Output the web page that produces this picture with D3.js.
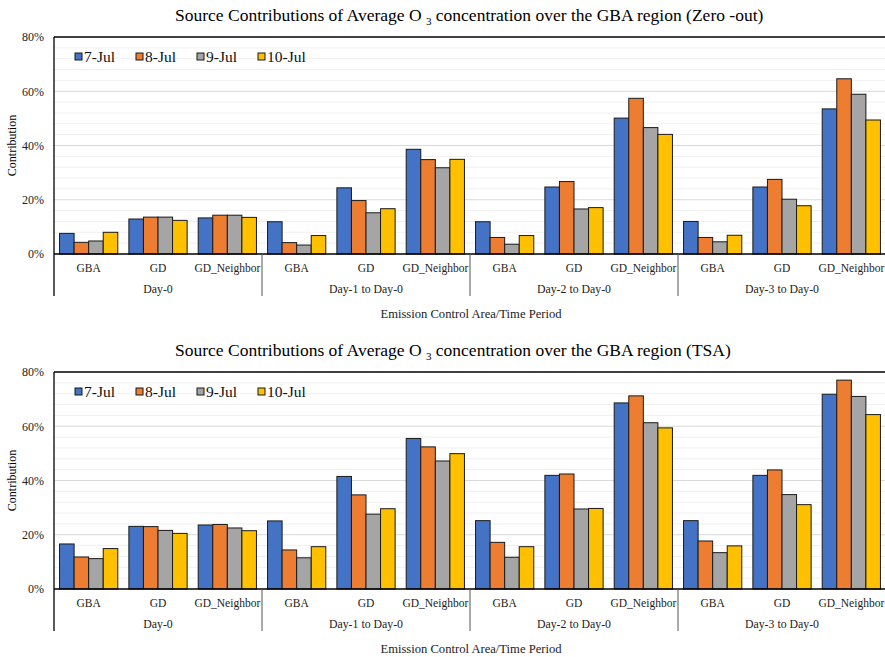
<!DOCTYPE html>
<html>
<head>
<meta charset="utf-8">
<script src="https://cdn.jsdelivr.net/npm/d3@7"></script>
<style>
  html, body { margin: 0; padding: 0; background: #fff; }
  text { font-family: "Liberation Serif", "Times New Roman", "DejaVu Serif", serif; }
</style>
</head>
<body>
<svg id="chart" width="885" height="657"></svg>
<script>
// ---- Data ----
const groups = ["Day-0", "Day-1 to Day-0", "Day-2 to Day-0", "Day-3 to Day-0"];
const areas = ["GBA", "GD", "GD_Neighbor"];
const series = ["7-Jul", "8-Jul", "9-Jul", "10-Jul"];
const yTicks = [0, 0.2, 0.4, 0.6, 0.8];

// Zero-out values (per series, 12 categories: group x area)
const zeroOut_7Jul  = [0.076, 0.129, 0.133, 0.119, 0.244, 0.386, 0.119, 0.247, 0.501, 0.120, 0.247, 0.535];
const zeroOut_8Jul  = [0.043, 0.136, 0.143, 0.042, 0.197, 0.348, 0.061, 0.267, 0.574, 0.061, 0.275, 0.646];
const zeroOut_9Jul  = [0.048, 0.136, 0.143, 0.033, 0.152, 0.318, 0.036, 0.166, 0.466, 0.045, 0.202, 0.589];
const zeroOut_10Jul = [0.080, 0.124, 0.135, 0.068, 0.167, 0.349, 0.068, 0.171, 0.441, 0.069, 0.178, 0.494];

// TSA values
const tsa_7Jul  = [0.166, 0.231, 0.236, 0.251, 0.415, 0.555, 0.252, 0.419, 0.686, 0.252, 0.419, 0.718];
const tsa_8Jul  = [0.118, 0.230, 0.238, 0.144, 0.347, 0.524, 0.172, 0.424, 0.712, 0.177, 0.439, 0.770];
const tsa_9Jul  = [0.112, 0.216, 0.225, 0.115, 0.276, 0.472, 0.117, 0.295, 0.613, 0.134, 0.348, 0.710];
const tsa_10Jul = [0.149, 0.205, 0.215, 0.156, 0.296, 0.499, 0.156, 0.297, 0.594, 0.159, 0.311, 0.643];

const colors = ["#4472C4", "#ED7D31", "#A5A5A5", "#FFC000"];
const FONT = "'Liberation Serif', 'Times New Roman', 'DejaVu Serif', serif";

const panels = [
  { suffix: " concentration over the GBA region (Zero -out)", data: [zeroOut_7Jul, zeroOut_8Jul, zeroOut_9Jul, zeroOut_10Jul], top: 0 },
  { suffix: " concentration over the GBA region (TSA)", data: [tsa_7Jul, tsa_8Jul, tsa_9Jul, tsa_10Jul], top: 335 }
];

const svg = d3.select("#chart").attr("font-family", FONT);
const left = 54, right = 886;
const plotTop = 37, plotBottom = 254;

const categories = [];
groups.forEach(g => areas.forEach(a => categories.push(g + "|" + a)));

const x = d3.scaleBand().domain(categories).range([left, right]).paddingInner(0).paddingOuter(0);
const xGroup = d3.scaleBand().domain(groups).range([left, right]).padding(0);
const xs = d3.scaleBand().domain(series).range([x.bandwidth() * 0.08, x.bandwidth() * 0.92]).padding(0);
const y = d3.scaleLinear().domain([0, 0.8]).range([plotBottom, plotTop]);

panels.forEach(p => {
  const g = svg.append("g").attr("transform", `translate(0,${p.top})`).attr("font-family", FONT);

  // Title
  const t = g.append("text").attr("x", 175).attr("y", 21)
    .attr("font-size", 17.5).attr("fill", "#000").attr("font-family", FONT);
  t.append("tspan").text("Source Contributions of Average O ");
  t.append("tspan").attr("dy", 4).attr("font-size", 11).text("3");
  t.append("tspan").attr("dy", -4).text(p.suffix);

  // Minor gridlines
  const minor = d3.range(0.04, 0.8, 0.04).filter(v => Math.abs(v * 5 - Math.round(v * 5)) > 1e-6);
  g.append("g").selectAll("line").data(minor).join("line")
    .attr("x1", left).attr("x2", 885)
    .attr("y1", d => y(d)).attr("y2", d => y(d))
    .attr("stroke", "#f0f0f0").attr("stroke-width", 1);
  // Major gridlines
  g.append("g").selectAll("line").data(yTicks.filter(v => v > 0 && v < 0.8)).join("line")
    .attr("x1", left).attr("x2", 885)
    .attr("y1", d => y(d)).attr("y2", d => y(d))
    .attr("stroke", "#d9d9d9").attr("stroke-width", 1);
  // Top border
  g.append("line").attr("x1", left).attr("x2", 885).attr("y1", y(0.8)).attr("y2", y(0.8))
    .attr("stroke", "#000").attr("stroke-width", 1.3);

  // Y axis
  const yAxis = d3.axisLeft(y).tickValues(yTicks).tickFormat(d3.format(".0%")).tickSize(0).tickPadding(10);
  const ya = g.append("g").attr("transform", `translate(${left},0)`).call(yAxis)
    .attr("font-family", FONT).attr("font-size", 12);
  ya.select(".domain").remove();
  ya.selectAll("text").attr("font-size", 12).attr("font-family", FONT).attr("fill", "#222");

  // Y axis title
  g.append("text").attr("transform", `translate(16,${(plotTop + plotBottom) / 2}) rotate(-90)`)
    .attr("text-anchor", "middle").attr("font-size", 12).attr("font-family", FONT).text("Contribution");

  // Bars
  p.data.forEach((vals, si) => {
    g.append("g").selectAll("rect").data(vals).join("rect")
      .attr("x", (d, i) => x(categories[i]) + xs(series[si]))
      .attr("y", d => y(d))
      .attr("width", xs.bandwidth())
      .attr("height", d => y(0) - y(d))
      .attr("fill", colors[si])
      .attr("stroke", "#1a1a1a").attr("stroke-width", 1);
  });

  // Category axis baseline
  g.append("line").attr("x1", left).attr("x2", 885).attr("y1", y(0)).attr("y2", y(0))
    .attr("stroke", "#000").attr("stroke-width", 1.3);
  // Left axis line (extends into category area)
  g.append("line").attr("x1", left).attr("x2", left).attr("y1", plotTop).attr("y2", plotBottom + 42)
    .attr("stroke", "#000").attr("stroke-width", 1.3);
  // Group dividers
  g.append("g").selectAll("line").data(groups.slice(1)).join("line")
    .attr("x1", d => xGroup(d)).attr("x2", d => xGroup(d))
    .attr("y1", plotBottom).attr("y2", plotBottom + 42)
    .attr("stroke", "#555").attr("stroke-width", 1);

  // Category labels
  g.append("g").selectAll("text").data(categories).join("text")
    .attr("x", d => x(d) + x.bandwidth() / 2).attr("y", plotBottom + 18)
    .attr("text-anchor", "middle").attr("font-size", 11.5).attr("font-family", FONT).attr("fill", "#222")
    .text(d => d.split("|")[1]);
  // Group labels
  g.append("g").selectAll("text").data(groups).join("text")
    .attr("x", d => xGroup(d) + xGroup.bandwidth() / 2).attr("y", plotBottom + 39)
    .attr("text-anchor", "middle").attr("font-size", 11.8).attr("font-family", FONT).attr("fill", "#222")
    .text(d => d);
  // X axis title
  g.append("text").attr("x", 471).attr("y", plotBottom + 64)
    .attr("text-anchor", "middle").attr("font-size", 12.6).attr("font-family", FONT).attr("fill", "#222")
    .text("Emission Control Area/Time Period");

  // Legend
  const legX = [75, 136, 197, 258];
  const lg = g.append("g").selectAll("g").data(series).join("g")
    .attr("transform", (d, i) => `translate(${legX[i]},${53})`);
  lg.append("rect").attr("width", 7).attr("height", 7)
    .attr("fill", (d, i) => colors[i]).attr("stroke", "#1a1a1a").attr("stroke-width", 1);
  lg.append("text").attr("x", 9).attr("y", 8.5).attr("font-size", 15.5).attr("font-family", FONT)
    .attr("fill", "#111").text(d => d);
});
</script>
</body>
</html>
